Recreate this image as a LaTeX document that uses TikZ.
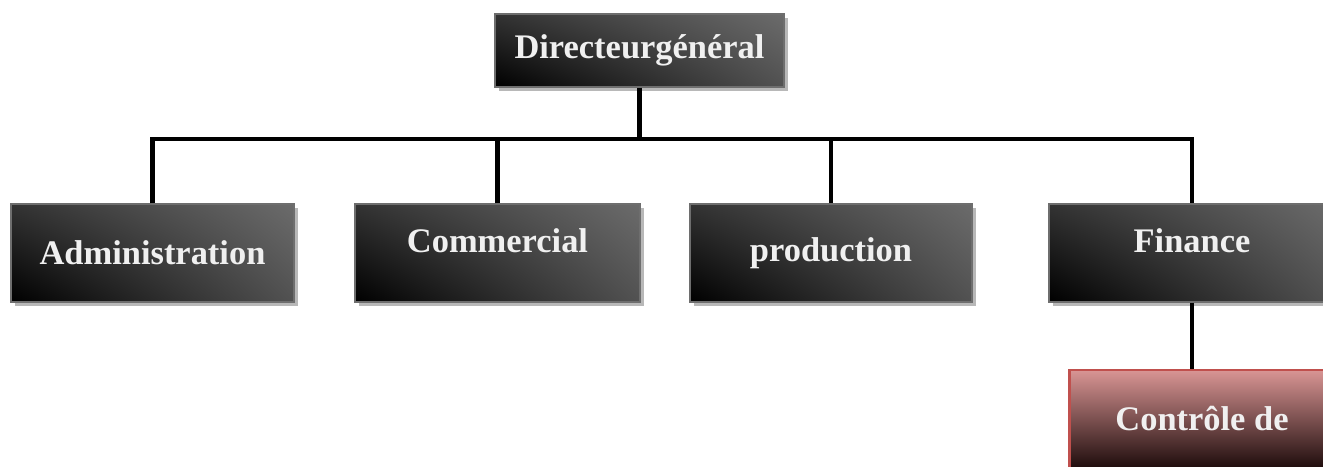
\documentclass[tikz,border=0pt]{standalone}
\usepackage{fontspec}
\setmainfont{Liberation Serif}
\usepackage{tikz}
\usetikzlibrary{shadows,shadings}

\definecolor{boxline}{RGB}{110,110,110}
\definecolor{rosetop}{RGB}{217,149,148}
\definecolor{rosebottom}{RGB}{30,12,12}
\definecolor{roseline}{RGB}{192,80,77}
\definecolor{boxtext}{RGB}{240,240,240}

\begin{document}
\begin{tikzpicture}[
        unit/.style={
            draw=boxline, line width=0.8pt,
            lower left=black, upper left=black!80,
            upper right=black!58, lower right=black!68,
            drop shadow={shadow xshift=0.08cm, shadow yshift=-0.08cm,
                         fill=black!28, opacity=1},
            text=boxtext, font=\fontsize{19.6}{22}\selectfont\bfseries,
            minimum height=1.96cm, inner sep=0pt
        },
        raised/.style={text depth=0.5cm},
        subunit/.style={
            draw=roseline, line width=1.2pt,
            top color=rosetop, bottom color=rosebottom,
            text=boxtext, font=\fontsize{19.6}{22}\selectfont\bfseries,
            minimum width=5.3cm, minimum height=1.96cm, inner sep=0pt
        },
        link/.style={line width=2.3pt, black}
    ]
    \useasboundingbox (0,0) rectangle (26.46,9.32);

    \node[unit, minimum width=5.78cm, minimum height=1.46cm] (dg) at (12.79,8.31) {Directeurgénéral};

    \node[unit, minimum width=5.66cm] (admin) at (3.05,4.26) {Administration};
    \node[unit, raised, minimum width=5.7cm] (commercial) at (9.95,4.26) {Commercial};
    \node[unit, minimum width=5.64cm] (production) at (16.62,4.26) {production};
    \node[unit, raised, minimum width=5.72cm] (finance) at (23.84,4.26) {Finance};

    \node[subunit] (controle) at (24.04,0.94) {Contrôle de};

    \coordinate (bus) at (dg.south |- 0,6.54);
    \draw[link] (dg.south) -- (bus);
    \draw[link] (admin.north) |- (bus) -| (finance.north);
    \draw[link] (commercial.north) -- (commercial.north |- bus);
    \draw[link] (production.north) -- (production.north |- bus);
    \draw[link] (finance.south) -- (finance.south |- controle.north);
\end{tikzpicture}
\end{document}
